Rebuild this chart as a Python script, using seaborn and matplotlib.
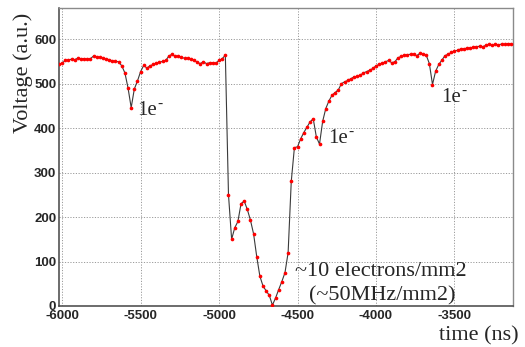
import numpy as np
import pandas as pd
import matplotlib
matplotlib.use("Agg")
import matplotlib.pyplot as plt
import seaborn as sns
from matplotlib.ticker import MultipleLocator

# ---- data ----
time_ns = list(range(-6020, -3139, 20))
voltage = [
    544, 546, 552, 553, 555, 554, 557, 556, 556, 555,
    556, 562, 560, 559, 557, 555, 554, 551, 550, 549,
    540, 524, 490, 446, 488, 506, 527, 541, 535, 540,
    543, 546, 548, 550, 552, 562, 566, 561, 562, 559,
    557, 557, 555, 553, 548, 545, 549, 545, 547, 547,
    546, 552, 556, 564, 250, 150, 176, 190, 230, 236,
    217, 193, 162, 111, 67, 45, 34, 24, 2, 18,
    37, 55, 75, 120, 280, 356, 358, 376, 390, 402,
    414, 421, 380, 364, 415, 444, 461, 474, 480, 486,
    500, 504, 507, 511, 515, 516, 519, 524, 527, 530,
    534, 540, 543, 546, 549, 552, 547, 549, 558, 561,
    564, 565, 566, 566, 563, 568, 566, 564, 545, 498,
    528, 543, 553, 563, 566, 570, 573, 575, 578, 578,
    580, 580, 582, 583, 584, 583, 586, 588, 586, 588,
    587, 589, 588, 590, 589,
]
x_ticks = [-6000, -5500, -5000, -4500, -4000, -3500]
y_ticks = [0, 100, 200, 300, 400, 500, 600]
x_label = "time (ns)"
y_label = "Voltage (a.u.)"
peak_labels = [("1e", -5522, 429), ("1e", -4306, 366), ("1e", -3586, 458)]
big_labels = [("~10 electrons/mm2", -4516, 67), ("(~50MHz/mm2)", -4427, 13)]

df = pd.DataFrame({"time": time_ns, "voltage": voltage})

sns.set_style("white")
plt.rcParams["axes.unicode_minus"] = False
plt.rcParams["font.family"] = ["Liberation Sans", "DejaVu Sans"]

fig = plt.figure(figsize=(5.25, 3.47), dpi=100)
ax = fig.add_axes([59 / 525, 1 - 306 / 347, 454 / 525, 298 / 347])

sns.lineplot(data=df, x="time", y="voltage", ax=ax, color="#3a3a3a",
             linewidth=0.8, zorder=3)
sns.scatterplot(data=df, x="time", y="voltage", ax=ax, color="#ff0000",
                s=7, linewidth=0, zorder=4)

ax.set_xlim(-6020, -3127)
ax.set_ylim(0, 670)
ax.set_xticks(x_ticks)
ax.set_yticks(y_ticks)
ax.xaxis.set_minor_locator(MultipleLocator(100))
ax.yaxis.set_minor_locator(MultipleLocator(20))
ax.tick_params(axis="both", which="major", direction="in", length=4.5,
               width=0.9, color="#444444", labelsize=9.5, pad=2)
ax.tick_params(axis="both", which="minor", direction="in", length=2.6,
               width=0.8, color="#444444")
ax.tick_params(axis="x", which="major", pad=3.2)
for lab in ax.get_xticklabels() + ax.get_yticklabels():
    lab.set_fontweight("bold")
    lab.set_family(["Liberation Sans", "DejaVu Sans"])
for lab in ax.get_yticklabels():
    lab.set_verticalalignment("center_baseline")

ax.grid(True, which="major", color="#9a9a9a", linestyle=(0, (1.2, 1.6)),
        linewidth=0.7, zorder=0)
ax.set_axisbelow(True)
ax.set_xlabel("")
ax.set_ylabel("")
for side in ["left", "bottom"]:
    ax.spines[side].set_color("#444444")
    ax.spines[side].set_linewidth(1.1)
for side in ["top", "right"]:
    ax.spines[side].set_color("#8a8a8a")
    ax.spines[side].set_linewidth(1.0)

serif = ["Liberation Serif", "DejaVu Serif"]
fig.text(23 / 525, 1 - 73 / 347, y_label, rotation=90, ha="center",
         va="center", fontsize=16, family=serif)
fig.text(519 / 525, 1 - 336 / 347, x_label, ha="right", va="center",
         fontsize=16, family=serif)

for txt, tx, ty in peak_labels:
    ax.text(tx, ty, txt, ha="left", va="baseline", fontsize=15, family=serif,
            zorder=5)
    ax.annotate("-", xy=(tx, ty), xytext=(14.8, 5.5), textcoords="offset points",
                ha="left", va="baseline", fontsize=11, family=serif, zorder=5)

for txt, tx, ty in big_labels:
    ax.text(tx, ty, txt, ha="left", va="baseline", fontsize=16, family=serif,
            zorder=5)

fig.savefig("out.png", dpi=100, facecolor="white")
